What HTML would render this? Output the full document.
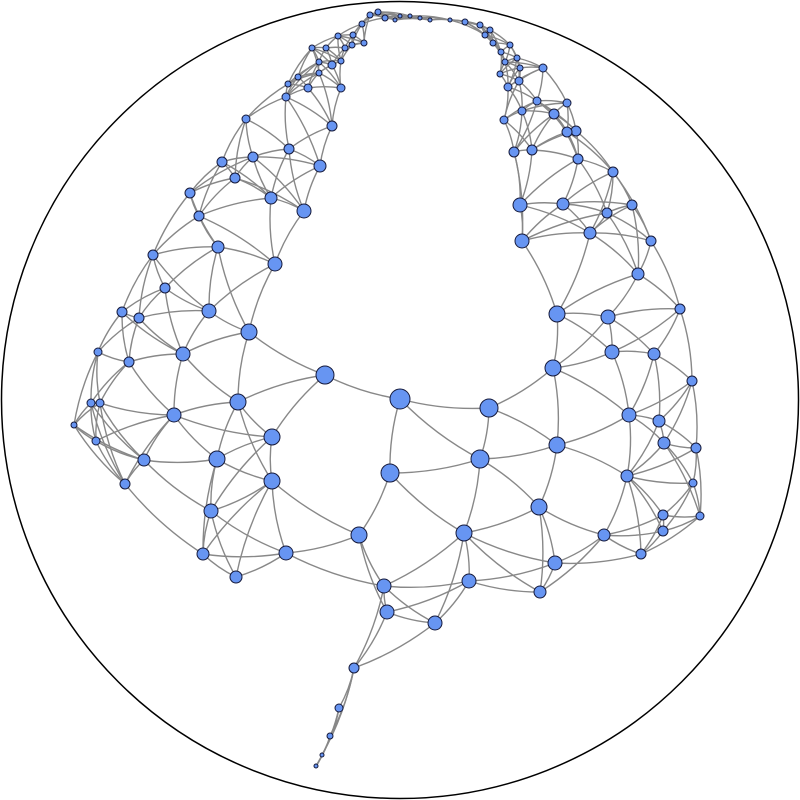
<!DOCTYPE html>
<html><head><meta charset="utf-8"><style>html,body{margin:0;padding:0;background:#fff}svg{display:block}</style></head>
<body>
<svg id="chart" width="800" height="800" viewBox="0 0 800 800" xmlns="http://www.w3.org/2000/svg">
<circle cx="400" cy="400" r="398.5" fill="none" stroke="#000" stroke-width="1.5"/>
<g id="edges"></g>
<g id="nodes"></g>
</svg>
<script>
const nodeX=[246,253,289,332,222,235,320,190,199,271,304,218,275,153,165,122,139,209,249,98,129,183,91,100,74,96,174,238,272,217,144,125,272,211,203,236,286,325,400,489,390,480,359,464,384,469,387,435,539,557,553,557,608,612,654,629,659,627,664,692,680,638,651,590,607,632,563,522,520,578,613,576,567,532,514,554,567,537,522,504,508,519,543,500,555,540,604,641,663,663,700,693,696,354,339,330,322,316,286,298,288,308,319,332,341,319,341,312,326,345,353,338,362,370,378,385,364,352,430,450,465,480,485,493,501,510,517,505,520,490,410,400,395,420];
const nodeY=[119,157,149,126,162,178,166,193,216,198,211,247,264,255,288,312,318,311,332,352,362,354,403,403,425,441,415,402,437,459,460,484,481,511,554,577,553,375,399,408,473,459,535,533,586,581,612,623,507,445,368,314,317,352,354,415,421,476,443,381,309,274,241,233,213,205,204,241,205,159,172,131,132,150,152,114,103,101,111,120,87,81,68,74,563,592,535,554,531,515,516,483,448,668,708,736,755,766,97,77,84,88,73,65,88,62,61,48,48,48,35,36,24,15,12,18,43,45,20,20,22,25,35,43,52,45,58,62,68,30,16,16,20,18];
const nodeR=[4,5,5,5,5,5,6,5,5,6,7,6,7,5,5,5,5,7,8,4,5,7,4,4,3,4,7,8,8,8,6,5,8,7,6,6,7,9,10,9,9,9,8,8,7,7,7,7,8,8,8,8,7,7,6,7,6,6,6,5,5,6,5,6,5,5,6,7,7,5,5,5,5,5,5,5,4,4,4,4,4,4,4,3,7,6,6,5,5,5,4,4,5,5,4,3,2,2,4,3,3,4,3,4,4,3,3,3,3,3,3,3,3,3,3,3,3,3,2,2,3,3,3,3,3,3,3,3,3,3,2,2,2,2];
const K=6;
const eg=document.getElementById('edges'),ng=document.getElementById('nodes');
const N=nodeX.length,seen=new Set();
for(let i=0;i<N;i++){
  const d=[];
  for(let j=0;j<N;j++) if(j!==i) d.push([Math.hypot(nodeX[i]-nodeX[j],nodeY[i]-nodeY[j]),j]);
  d.sort((a,b)=>a[0]-b[0]);
  for(let k=0;k<K;k++){
    const j=d[k][1];const key=Math.min(i,j)+'-'+Math.max(i,j);
    if(seen.has(key)) continue; seen.add(key);
    if(d[k][0]>105) continue;
    const x1=nodeX[i],y1=nodeY[i],x2=nodeX[j],y2=nodeY[j];
    const mx=(x1+x2)/2,my=(y1+y2)/2,dx=x2-x1,dy=y2-y1;
    let px=-dy*0.08,py=dx*0.08;
    if((mx+px-400)**2+(my+py-400)**2<(mx-400)**2+(my-400)**2){px=-px;py=-py;}
    const p=document.createElementNS('http://www.w3.org/2000/svg','path');
    
    
    p.setAttribute('d',`M${x1},${y1} Q${mx+px},${my+py} ${x2},${y2}`);
    p.setAttribute('fill','none');p.setAttribute('stroke','#888');p.setAttribute('stroke-width','1.4');
    eg.appendChild(p);
  }
}
for(let i=0;i<N;i++){
  const c=document.createElementNS('http://www.w3.org/2000/svg','circle');
  
  
  c.setAttribute('cx',nodeX[i]);c.setAttribute('cy',nodeY[i]);c.setAttribute('r',nodeR[i]);
  c.setAttribute('fill','#6795f2');c.setAttribute('stroke','#15193a');c.setAttribute('stroke-width','1');
  ng.appendChild(c);
}
</script>
</body></html>
